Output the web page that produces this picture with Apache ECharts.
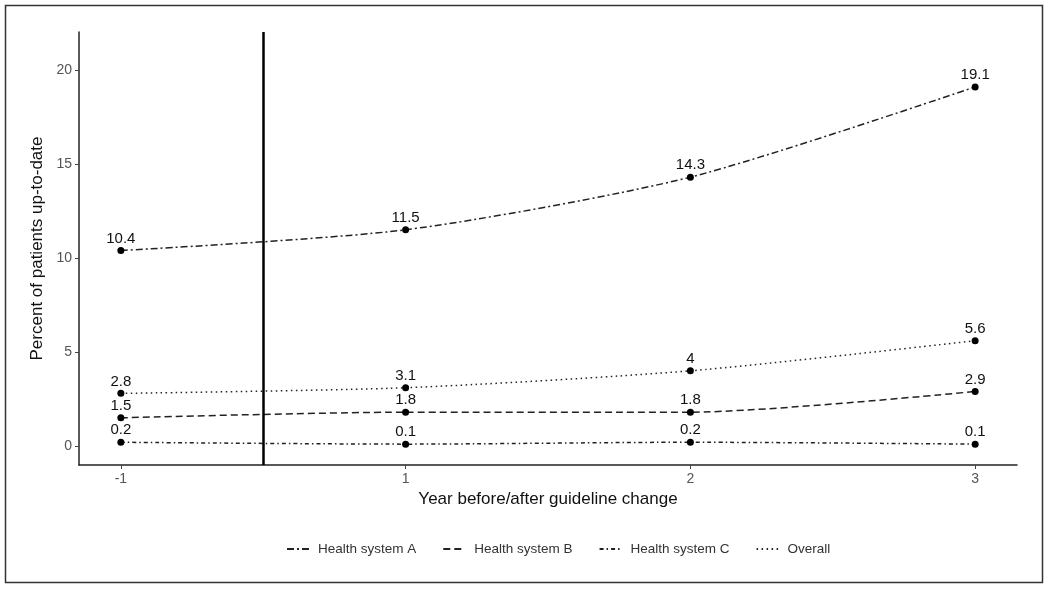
<!DOCTYPE html>
<html>
<head>
<meta charset="utf-8">
<script src="https://cdn.jsdelivr.net/npm/echarts@6/dist/echarts.min.js"></script>
<style>
  html, body { margin: 0; padding: 0; background: #fff; }
  #chart { width: 1050px; height: 589px; }
</style>
</head>
<body>
<div id="chart"></div>
<script>
// year labels, equally spaced along x
const years = ["-1", "1", "2", "3"];
const healthA = [10.4, 11.5, 14.3, 19.1];
const healthB = [1.5, 1.8, 1.8, 2.9];
const healthC = [0.2, 0.1, 0.2, 0.1];
const overall = [2.8, 3.1, 4, 5.6];
const yTicks = [0, 5, 10, 15, 20];
const guidelineAt = 0.5; // between year -1 and year 1

const chart = echarts.init(document.getElementById("chart"));

const makeSeries = (name, values, dash) => ({
  name,
  type: "line",
  smooth: 0.25,
  data: values.map((v, i) => [i, v]),
  symbol: "circle",
  symbolSize: 7,
  itemStyle: { color: "#000" },
  lineStyle: { color: "#222", width: 1.5, type: dash },
  label: {
    show: true,
    position: "top",
    distance: 1,
    color: "#111",
    fontSize: 15,
    fontFamily: "Liberation Sans, Arial",
    formatter: (p) => String(p.value[1])
  },
  emphasis: { disabled: true }
});

const series = [
  makeSeries("Health system A", healthA, [7, 3, 2, 3]),
  makeSeries("Health system B", healthB, [7, 4]),
  makeSeries("Health system C", healthC, [4, 3, 1.5, 3]),
  makeSeries("Overall", overall, [1.5, 3.5])
];

series[0].markLine = {
  silent: true,
  symbol: "none",
  label: { show: false },
  lineStyle: { color: "#000", width: 2.5, type: "solid" },
  data: [{ xAxis: guidelineAt }]
};

chart.setOption({
  animation: false,
  graphic: [
    {
      type: "rect",
      shape: { x: 5.5, y: 5.5, width: 1037, height: 577 },
      style: { fill: "none", stroke: "#333", lineWidth: 1.5 }
    }
  ],
  grid: { left: 79, right: 33, top: 32, bottom: 124 },
  legend: {
    bottom: 28,
    left: 281,
    itemWidth: 22,
    itemHeight: 10,
    itemGap: 26,
    itemStyle: { opacity: 0 },
    textStyle: { color: "#333", fontSize: 13.5, fontFamily: "Liberation Sans, Arial", padding: [0, 0, 0, 4] },
    data: series.map((s) => s.name)
  },
  xAxis: {
    type: "value",
    min: -0.147,
    max: 3.147,
    name: "Year before/after guideline change",
    nameLocation: "middle",
    nameGap: 25,
    nameTextStyle: { color: "#111", fontSize: 17, fontFamily: "Liberation Sans, Arial" },
    splitLine: { show: false },
    axisLine: { onZero: false, lineStyle: { color: "#222", width: 1.5 } },
    axisTick: { show: true, length: 4, lineStyle: { color: "#444" }, customValues: [0, 1, 2, 3] },
    axisLabel: {
      color: "#555",
      fontSize: 14,
      fontFamily: "Liberation Sans, Arial",
      margin: 7,
      customValues: [0, 1, 2, 3],
      formatter: (v) => years[Math.round(v)]
    }
  },
  yAxis: {
    type: "value",
    min: -1.01,
    max: 22.02,
    name: "Percent of patients up-to-date",
    nameLocation: "middle",
    nameGap: 32,
    nameTextStyle: { color: "#111", fontSize: 17, fontFamily: "Liberation Sans, Arial" },
    splitLine: { show: false },
    axisLine: { show: true, onZero: false, lineStyle: { color: "#222", width: 1.5 } },
    axisTick: { show: true, length: 4, lineStyle: { color: "#444" }, customValues: yTicks },
    axisLabel: {
      color: "#555",
      fontSize: 14,
      fontFamily: "Liberation Sans, Arial",
      margin: 7,
      customValues: yTicks
    }
  },
  series
});
</script>
</body>
</html>
